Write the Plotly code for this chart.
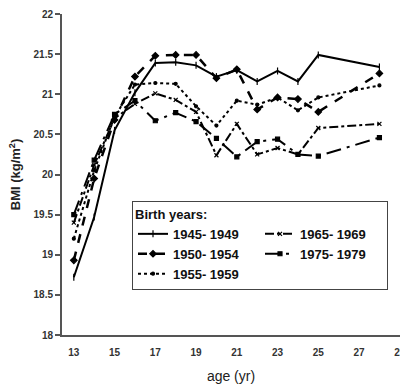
import plotly.graph_objects as go

ages = [13, 14, 15, 16, 17, 18, 19, 20, 21, 22, 23, 24, 25, 28]
bmi_1945 = [18.72, 19.47, 20.55, 21.02, 21.39, 21.40, 21.36, 21.22, 21.30, 21.16, 21.29, 21.16, 21.49, 21.34]
bmi_1950 = [18.93, 19.95, 20.68, 21.22, 21.48, 21.49, 21.49, 21.20, 21.31, 20.81, 20.96, 20.94, 20.78, 21.26]
bmi_1955 = [19.20, 20.05, 20.72, 21.12, 21.14, 21.13, 20.85, 20.61, 20.92, 20.87, 20.96, 20.80, 20.96, 21.11]
bmi_1965 = [19.40, 20.12, 20.70, 20.88, 21.01, 20.93, 20.78, 20.24, 20.63, 20.25, 20.33, 20.25, 20.58, 20.63]
bmi_1975 = [19.50, 20.18, 20.75, 20.92, 20.67, 20.77, 20.66, 20.45, 20.22, 20.41, 20.44, 20.25, 20.23, 20.46]

series_names = ["1945- 1949", "1950- 1954", "1955- 1959", "1965- 1969", "1975- 1979"]
x_ticks = [13, 15, 17, 19, 21, 23, 25, 27, 29]
y_ticks = [18, 18.5, 19, 19.5, 20, 20.5, 21, 21.5, 22]

styles = [
    dict(dash="solid", width=2, symbol="line-ns-open", size=5, rank=1),
    dict(dash="dash", width=2.5, symbol="diamond", size=5, rank=3),
    dict(dash="dot", width=2, symbol="circle", size=3, rank=5),
    dict(dash="dashdot", width=2, symbol="x-thin-open", size=4, rank=2),
    dict(dash="longdashdot", width=2, symbol="square", size=4, rank=4),
]
data = [bmi_1945, bmi_1950, bmi_1955, bmi_1965, bmi_1975]

fig = go.Figure()
for name, vals, st in zip(series_names, data, styles):
    fig.add_trace(go.Scatter(
        x=ages, y=vals, name=name, mode="lines+markers",
        line=dict(color="#000000", width=st["width"], dash=st["dash"]),
        marker=dict(symbol=st["symbol"], size=st["size"], color="#000000",
                    line=dict(color="#000000", width=1.2)),
        legendrank=st["rank"],
    ))

font_family = "Liberation Sans, Arial, sans-serif"
fig.update_layout(
    width=400, height=384,
    margin=dict(l=62, r=0, t=14, b=49),
    plot_bgcolor="white", paper_bgcolor="white",
    font=dict(family=font_family, color="#222222"),
    xaxis=dict(
        range=[12.42, 29.01], tickvals=x_ticks, ticks="", showgrid=False, zeroline=False,
        showline=True, linecolor="#555555", linewidth=2, automargin=False,
        tickfont=dict(size=10, family=font_family, weight="bold", color="#333333"),
        ticklabelstandoff=7, ticklabeloverflow="allow",
        title=dict(text="age (yr)", font=dict(size=14, color="#222222"), standoff=14),
    ),
    yaxis=dict(
        range=[18, 22], tickvals=y_ticks, ticktext=[f"{v:g}" for v in y_ticks],
        ticks="outside", ticklen=5, tickcolor="#555555", tickwidth=1.5,
        showgrid=False, zeroline=False, automargin=False,
        showline=True, linecolor="#555555", linewidth=2,
        tickfont=dict(size=10, family=font_family, weight="bold", color="#333333"),
        title=dict(text="BMI (kg/m<sup>2</sup>)", font=dict(size=13, weight="bold", color="#222222"), standoff=10),
    ),
    legend=dict(
        orientation="h", x=(388 - 62) / 338, y=(335 - 201) / 321, xanchor="right", yanchor="top",
        entrywidth=82, bordercolor="#444444", borderwidth=1, bgcolor="white",
        font=dict(size=13, family=font_family, weight="bold", color="#111111"),
        title=dict(text="Birth years:", side="top", font=dict(size=13, weight="bold", color="#111111")),
        tracegroupgap=0,
    ),
    showlegend=True,
)

fig.write_html("out.html")
